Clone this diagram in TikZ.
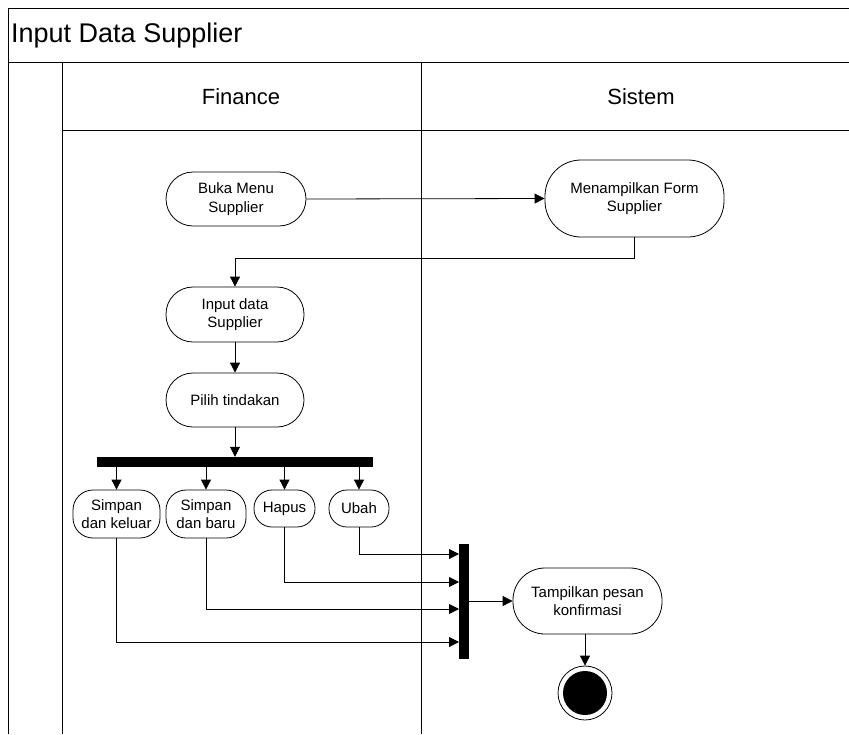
\documentclass[tikz,border=0pt]{standalone}
\usepackage{fontspec}
\setmainfont{Liberation Sans}
\usetikzlibrary{arrows.meta,calc}
\begin{document}
\begin{tikzpicture}[x=1pt,y=-1pt,
  frame/.style={line width=1pt,draw=black},
  act/.style={draw,line width=0.8pt,rounded corners=#1,align=center,
    font=\fontsize{15}{18.5}\selectfont,inner sep=0pt},
  bar/.style={fill=black,draw=none,inner sep=0pt},
  flow/.style={line width=0.8pt,-{Triangle[length=10pt,width=10pt]}},
  plain/.style={line width=0.8pt}
]
\useasboundingbox (0,0) rectangle (849,734);
% frames
\draw[frame] (8,734) -- (8,8) -- (849,8);
\draw[frame] (8,62) -- (849,62);
\draw[frame] (62,734) -- (62,62);
\draw[frame] (421,734) -- (421,62);
\draw[frame] (62,130) -- (849,130);
\node[anchor=west,font=\fontsize{27}{30}\selectfont,inner sep=0pt] (title) at (11,36) {Input Data Supplier};
\node[font=\fontsize{22}{26}\selectfont,inner sep=0pt] (finance) at (241,97) {Finance};
\node[font=\fontsize{22}{26}\selectfont,inner sep=0pt] (sistem) at (641,97) {Sistem};
% activities
\node[act=27pt,minimum width=140pt,minimum height=54pt] (buka) at (236,199) {Buka Menu\\Supplier};
\node[act=36pt,minimum width=179pt,minimum height=77pt] (form) at (634.5,198.5) {Menampilkan Form\\Supplier};
\node[act=27pt,minimum width=138pt,minimum height=55pt] (input) at (235,314.5) {Input data\\Supplier};
\node[act=27pt,minimum width=138pt,minimum height=54pt] (pilih) at (235,400) {Pilih tindakan};
\node[bar,minimum width=276pt,minimum height=10pt] (fork) at (235,462) {};
\node[act=20pt,minimum width=87pt,minimum height=48pt] (sk) at (116.5,514) {Simpan\\dan keluar};
\node[act=20pt,minimum width=80pt,minimum height=48pt] (sb) at (206,514) {Simpan\\dan baru};
\node[act=18pt,minimum width=61pt,minimum height=37pt] (hapus) at (284.5,508.5) {Hapus};
\node[act=18pt,minimum width=60pt,minimum height=37pt] (ubah) at (359,508.5) {Ubah};
\node[bar,minimum width=10pt,minimum height=115pt] (join) at (464,601.5) {};
\node[act=32pt,minimum width=149pt,minimum height=66pt] (tampil) at (587.5,601) {Tampilkan pesan\\konfirmasi};
\node[circle,draw,line width=0.8pt,minimum size=54pt,inner sep=0pt] (final) at (585,693) {};
\node[circle,fill=black,minimum size=44pt,inner sep=0pt] (finalin) at (final.center) {};
% join entry points
\coordinate (j1) at (459,554);
\coordinate (j2) at (459,582);
\coordinate (j3) at (459,609);
\coordinate (j4) at (459,642);
% connectors
\draw[flow] (buka.east) -- (form.west);
\draw[flow] (form.south) -- ++(0,21) -| (input.north);
\draw[flow] (input.south) -- (pilih.north);
\draw[flow] (pilih.south) -- (fork.north);
\draw[flow] (fork.south -| sk.north) -- (sk.north);
\draw[flow] (fork.south -| sb.north) -- (sb.north);
\draw[flow] (fork.south -| hapus.north) -- (hapus.north);
\draw[flow] (fork.south -| ubah.north) -- (ubah.north);
\draw[flow] (ubah.south) |- (j1);
\draw[flow] (hapus.south) |- (j2);
\draw[flow] (sb.south) |- (j3);
\draw[flow] (sk.south) |- (j4);
\draw[flow] (join.east |- tampil.west) -- (tampil.west);
\draw[flow] (tampil.south -| final.north) -- (final.north);
\end{tikzpicture}
\end{document}
